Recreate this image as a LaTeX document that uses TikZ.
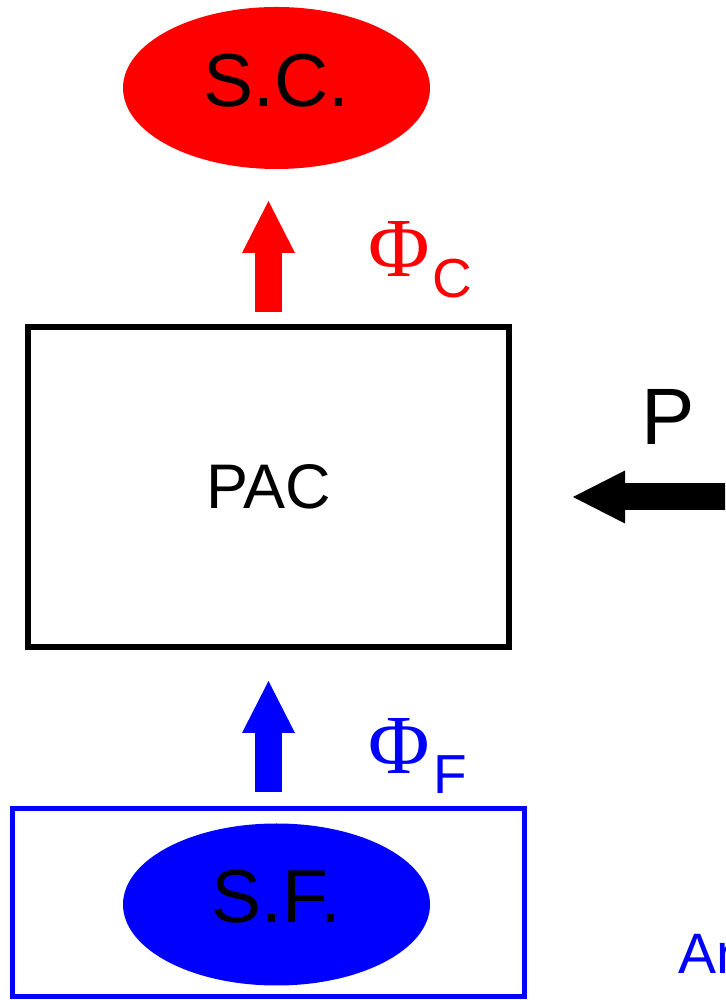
\documentclass[tikz,border=0pt]{standalone}
\usepackage{fontspec}
\setmainfont{Liberation Sans}
\newfontfamily\phifont{Liberation Serif}
\usepackage{tikz}
\usetikzlibrary{arrows.meta, positioning, shapes.geometric}
\definecolor{scred}{RGB}{255, 0, 0}
\definecolor{sfblue}{RGB}{0, 0, 255}
\newcommand{\fs}[1]{\fontsize{#1}{#1}\selectfont}

\begin{document}
\begin{tikzpicture}[
  x=1pt, y=1pt,
  every node/.style={inner sep=0pt, outer sep=0pt},
  blob/.style={ellipse, minimum width=307pt, minimum height=162pt,
               text depth=16pt, font=\fs{75}},
  flow/.style={line width=27pt,
               -{Triangle[length=52pt, width=53pt, line width=0pt]}},
  flux/.style={anchor=base west, font=\phifont\fs{84}}
]
\useasboundingbox (0,0) rectangle (725,1000);
\clip (0,0) rectangle (725,1000);

\node[draw, line width=6pt, minimum width=481pt, minimum height=320pt,
      font=\fs{63}] (pac) at (268.5,513) {PAC};
\node[blob, fill=scred, above=158pt of pac, xshift=8pt] (sc) {S.C.};
\node[draw=sfblue, line width=5pt, minimum width=512.5pt,
      minimum height=188pt, below=162pt of pac] (sfbox) {};
\node[blob, fill=sfblue, xshift=8pt, yshift=-1.5pt] (sf) at (sfbox) {S.F.};

% flows
\draw[flow, color=scred, shorten <=15pt, shorten >=32pt]
  (pac.north) -- (pac.north |- sc.south);
\draw[flow, color=sfblue, shorten <=17pt, shorten >=34pt]
  (sfbox.north) -- (pac.south);
\coordinate (pin) at (745,503);
\draw[flow, shorten >=64pt] (pin) -- (pin -| pac.east);

\node[flux, text=scred] (phic) at (368,723)
  {Φ\kern3pt\raisebox{-21pt}{\normalfont\fs{55}C}};
\node[flux, text=sfblue] (phif) at (368,226)
  {Φ\kern4pt\raisebox{-20pt}{\normalfont\fs{55}F}};
\node[anchor=base, font=\fs{80}] (plabel) at (668,555) {P};
\node[anchor=base west, font=\fs{57}, text=sfblue] (an) at (678,27) {An};
\end{tikzpicture}
\end{document}
